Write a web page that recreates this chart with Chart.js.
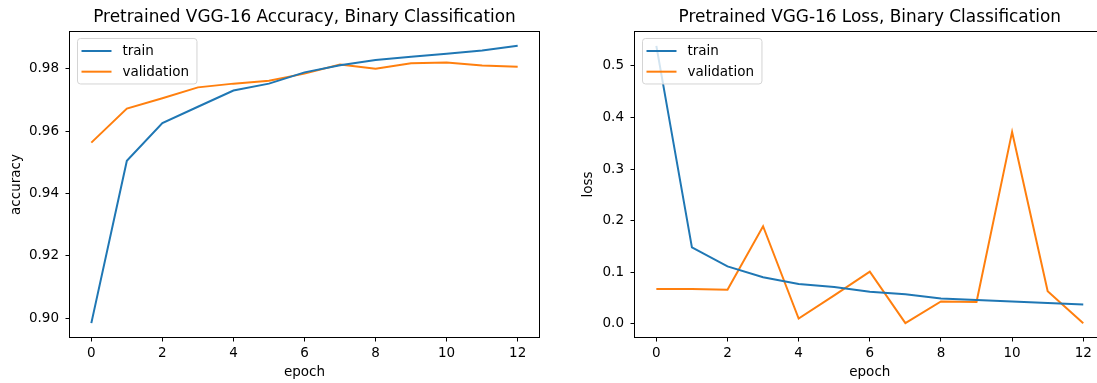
<!DOCTYPE html>
<html>
<head>
<meta charset="utf-8">
<script src="https://cdn.jsdelivr.net/npm/chart.js@4.4.1/dist/chart.umd.min.js"></script>
<style>
  html, body { margin: 0; padding: 0; background: #fff; overflow: hidden; width: 1097px; height: 383px; }
  .wrap { position: absolute; top: 0; }
</style>
</head>
<body>
<div class="wrap" style="left:0px;"><canvas id="acc" width="550" height="383"></canvas></div>
<div class="wrap" style="left:550px;"><canvas id="loss" width="575" height="383"></canvas></div>
<script>
// ---- data ----
const epochs = [0, 1, 2, 3, 4, 5, 6, 7, 8, 9, 10, 11, 12];
const trainAcc = [0.8985, 0.9505, 0.9626, 0.9678, 0.9730, 0.9752, 0.9788, 0.9811, 0.9828, 0.9838, 0.9848, 0.9858, 0.9873];
const valAcc   = [0.9563, 0.9672, 0.9705, 0.9740, 0.9752, 0.9761, 0.9784, 0.9813, 0.9800, 0.9817, 0.9820, 0.9810, 0.9806];
const trainLoss = [0.539, 0.148, 0.111, 0.090, 0.077, 0.071, 0.062, 0.057, 0.049, 0.046, 0.043, 0.040, 0.037];
const valLoss   = [0.067, 0.067, 0.066, 0.189, 0.010, 0.055, 0.101, 0.001, 0.043, 0.042, 0.372, 0.063, 0.001];
const epochTicks = [0, 2, 4, 6, 8, 10, 12];
const accTicks = [0.90, 0.92, 0.94, 0.96, 0.98];
const lossTicks = [0.0, 0.1, 0.2, 0.3, 0.4, 0.5];
const seriesNames = ['train', 'validation'];
const seriesColors = ['#1f77b4', '#ff7f0e'];

Chart.defaults.color = '#000';
Chart.defaults.font.family = '"DejaVu Sans", sans-serif';

const FONT = 13.5;

function margins(arrs) {
  const all = [].concat(...arrs);
  const mn = Math.min(...all), mx = Math.max(...all);
  const r = mx - mn;
  return [mn - 0.05 * r, mx + 0.05 * r];
}

const framePlugin = {
  id: 'mplFrame',
  afterDatasetsDraw(chart) {
    const ctx = chart.ctx, a = chart.chartArea;
    ctx.save();
    ctx.font = FONT + 'px "DejaVu Sans", sans-serif';
    const names = chart.data.datasets.map(d => d.label);
    const tw = Math.max(...names.map(n => ctx.measureText(n).width));
    const lx = a.left + 7.5, ly = a.top + 6.5;
    const textX = a.left + 52.5;
    const w = textX + tw + 8 - lx, h = 45.5;
    const r = 3;
    ctx.beginPath();
    ctx.moveTo(lx + r, ly);
    ctx.lineTo(lx + w - r, ly);
    ctx.quadraticCurveTo(lx + w, ly, lx + w, ly + r);
    ctx.lineTo(lx + w, ly + h - r);
    ctx.quadraticCurveTo(lx + w, ly + h, lx + w - r, ly + h);
    ctx.lineTo(lx + r, ly + h);
    ctx.quadraticCurveTo(lx, ly + h, lx, ly + h - r);
    ctx.lineTo(lx, ly + r);
    ctx.quadraticCurveTo(lx, ly, lx + r, ly);
    ctx.closePath();
    ctx.fillStyle = 'rgba(255,255,255,0.8)';
    ctx.fill();
    ctx.strokeStyle = '#d4d4d4';
    ctx.lineWidth = 1;
    ctx.stroke();
    chart.data.datasets.forEach((d, i) => {
      const cy = a.top + 19 + i * 20.7;
      ctx.strokeStyle = d.borderColor;
      ctx.lineWidth = 2;
      ctx.beginPath();
      ctx.moveTo(a.left + 11.5, cy);
      ctx.lineTo(a.left + 41.5, cy);
      ctx.stroke();
      ctx.fillStyle = '#000';
      ctx.textBaseline = 'middle';
      ctx.textAlign = 'left';
      ctx.fillText(d.label, textX, cy + 0.5);
    });
    ctx.strokeStyle = '#000';
    ctx.lineWidth = 1;
    ctx.strokeRect(Math.round(a.left) - 0.5, Math.round(a.top) - 0.5, Math.round(a.right - a.left) + 1, Math.round(a.bottom - a.top) + 1);
    ctx.restore();
  }
};

function makeChart(id, title, yLabel, trainArr, valArr, yTicks, decimals, yAxisWidth, yTitlePad, padRight) {
  const [ymin, ymax] = margins([trainArr, valArr]);
  const mk = (arr) => epochs.map((e, i) => ({ x: e, y: arr[i] }));
  return new Chart(document.getElementById(id), {
    type: 'line',
    data: {
      datasets: [
        { label: seriesNames[0], data: mk(trainArr), borderColor: seriesColors[0], backgroundColor: seriesColors[0], borderWidth: 2, pointRadius: 0, tension: 0, fill: false },
        { label: seriesNames[1], data: mk(valArr), borderColor: seriesColors[1], backgroundColor: seriesColors[1], borderWidth: 2, pointRadius: 0, tension: 0, fill: false }
      ]
    },
    options: {
      responsive: false,
      animation: false,
      devicePixelRatio: 1,
      layout: { padding: { left: 0, top: 0, right: padRight, bottom: 0 } },
      plugins: {
        legend: { display: false },
        tooltip: { enabled: false },
        title: {
          display: true, text: title, fullSize: false,
          font: { size: 16.9, weight: 'normal', family: '"DejaVu Sans", sans-serif' },
          color: '#000',
          padding: { top: 7.6, bottom: 4.1 }
        },
        mplFrame: {}
      },
      scales: {
        x: {
          type: 'linear', min: -0.6, max: 12.6,
          afterBuildTicks: (s) => { s.ticks = epochTicks.map(v => ({ value: v })); },
          afterFit: (s) => { s.height = 46; },
          ticks: { font: { size: FONT }, padding: 4, maxRotation: 0, autoSkip: false, color: '#000' },
          grid: { drawOnChartArea: false, drawTicks: true, tickLength: 4.5, color: '#000', lineWidth: 1 },
          border: { display: false },
          title: { display: true, text: 'epoch', font: { size: FONT }, color: '#000', padding: { top: 0, bottom: 2 } }
        },
        y: {
          type: 'linear', min: ymin, max: ymax,
          afterBuildTicks: (s) => { s.ticks = yTicks.map(v => ({ value: v })); },
          afterFit: (s) => { s.width = yAxisWidth; },
          ticks: { font: { size: FONT }, padding: 6.5, autoSkip: false, color: '#000', callback: (v) => Number(v).toFixed(decimals) },
          grid: { drawOnChartArea: false, drawTicks: true, tickLength: 4.5, color: '#000', lineWidth: 1 },
          border: { display: false },
          title: { display: true, text: yLabel, font: { size: FONT }, color: '#000', padding: { top: yTitlePad, bottom: 0 } }
        }
      }
    },
    plugins: [framePlugin]
  });
}

makeChart('acc', 'Pretrained VGG-16 Accuracy, Binary Classification', 'accuracy', trainAcc, valAcc, accTicks, 2, 70, 8.2, 11);
makeChart('loss', 'Pretrained VGG-16 Loss, Binary Classification', 'loss', trainLoss, valLoss, lossTicks, 1, 85, 30.3, 20.4);
</script>
</body>
</html>
